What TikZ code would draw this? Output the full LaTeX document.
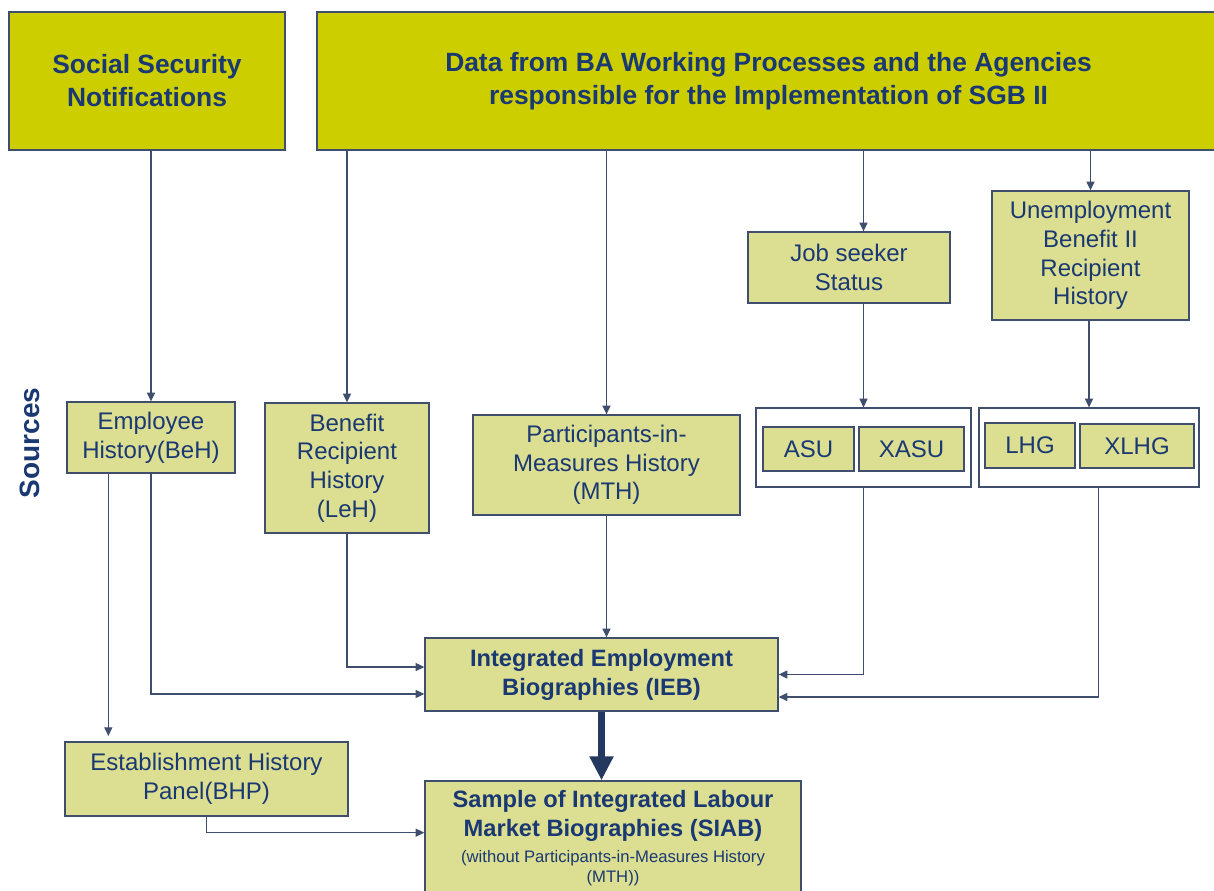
\documentclass[tikz,border=0pt]{standalone}
\usepackage{fontspec}
\setmainfont{Liberation Sans}
\usetikzlibrary{arrows.meta}
\definecolor{srcolive}{RGB}{204,206,0}
\definecolor{srclight}{RGB}{220,223,146}
\definecolor{srcblue}{RGB}{26,56,114}
\definecolor{srcline}{RGB}{62,78,108}
\definecolor{srcnavy}{RGB}{36,56,96}

\begin{document}
\begin{tikzpicture} [x=0.75pt, y=-0.75pt,
				topbox/.style = {draw=srcline,
					    line width=1pt,
					    fill=srcolive,
					    text=srcblue,
					    align=center,
					    font=\fontsize{19.8}{24.75}\selectfont\bfseries},
				srcbox/.style = {draw=srcline,
					    line width=1pt,
					    fill=srclight,
					    text=srcblue,
					    align=center,
					    font=\fontsize{18}{21.5}\selectfont},
				mainbox/.style = {srcbox,
					    font=\fontsize{17.75}{21.75}\selectfont\bfseries},
				holder/.style = {draw=srcline, line width=0.9pt, fill=white},
				flow/.style = {draw=srcline, line width=0.9pt,
					    -{Triangle[width=6pt,length=6.5pt]}},
				bigflow/.style = {draw=srcnavy, line width=5pt,
					    -{Triangle[width=17pt,length=18pt]}}]

					\useasboundingbox (0,0) rectangle (1214,890);

					\node (ssn) at (147,81) [topbox, minimum width=207pt, minimum height=103.5pt] {Social Security\\Notifications};
					\node (data) at (768.5,81) [topbox, minimum width=677.25pt, minimum height=103.5pt] {Data from BA Working Processes and the Agencies\\responsible for the Implementation of SGB II};

					\node (src) at (30,443) [rotate=90, text=srcblue, font=\fontsize{21}{25}\selectfont\bfseries] {Sources};

					\node (jobseek) at (849,267.5) [srcbox, minimum width=151.5pt, minimum height=53.25pt] {Job seeker\\Status};
					\node (ubii) at (1090.5,255.5) [srcbox, minimum width=147.75pt, minimum height=96.75pt] {Unemployment\\Benefit II\\Recipient\\History};

					\node (beh) at (151,437.5) [srcbox, minimum width=126pt, minimum height=53.25pt] {Employee\\History(BeH)};
					\node (leh) at (347,468) [srcbox, minimum width=123pt, minimum height=97.5pt] {Benefit\\Recipient\\History\\(LeH)};
					\node (mth) at (606.5,465) [srcbox, minimum width=200.25pt, minimum height=75pt] {Participants-in-\\Measures History\\(MTH)};

					\node (asubox) at (863.5,447.5) [holder, minimum width=161.25pt, minimum height=59.25pt] {};
					\node (asu) at (808.5,449) [srcbox, minimum width=68.25pt, minimum height=33pt] {ASU};
					\node (xasu) at (911.5,449) [srcbox, minimum width=78.75pt, minimum height=33pt] {XASU};

					\node (lhgbox) at (1089,447.5) [holder, minimum width=165pt, minimum height=59.25pt] {};
					\node (lhg) at (1030,445.5) [srcbox, minimum width=67.5pt, minimum height=33.75pt] {LHG};
					\node (xlhg) at (1137,446) [srcbox, minimum width=85.5pt, minimum height=33pt] {XLHG};

					\node (ieb) at (601.5,674.5) [mainbox, minimum width=264.75pt, minimum height=54.75pt] {Integrated Employment\\Biographies (IEB)};
					\node (bhp) at (206.5,779) [srcbox, minimum width=212.25pt, minimum height=55.5pt] {Establishment History\\Panel(BHP)};
					\node (siab) at (613,838) [mainbox, minimum width=282pt, minimum height=85.5pt] {Sample of Integrated Labour\\Market Biographies (SIAB)\\[-2.25pt]\fontsize{12.5}{15}\selectfont\mdseries (without Participants-in-Measures History\\[-6.75pt]\fontsize{12.5}{15}\selectfont\mdseries (MTH))};

					\draw [flow] (ssn.south -| beh.north) -- (beh.north);
					\draw [flow] (data.south -| leh.north) -- (leh.north);
					\draw [flow] (data.south -| mth.north) -- (mth.north);
					\draw [flow] (data.south -| asubox.north) -- (jobseek.north -| asubox.north);
					\draw [flow] (data.south -| ubii.north) -- (ubii.north);
					\draw [flow] (jobseek.south -| asubox.north) -- (asubox.north);
					\draw [flow] (ubii.south -| lhgbox.north) -- (lhgbox.north);

					\draw [flow] ([xshift=-32pt]beh.south) -- ([xshift=-32pt, yshift=4pt]beh.south |- bhp.north);
					\draw [flow] (beh.south) |- ([yshift=-14.6pt]ieb.west);
					\draw [flow] (leh.south) |- ([yshift=5.6pt]ieb.west);
					\draw [flow] (mth.south) -- (mth.south |- ieb.north);
					\draw [flow] (asubox.south) |- (ieb.east);
					\draw [flow] ([xshift=7pt]lhgbox.south) |- ([yshift=-16.9pt]ieb.east);
					\draw [bigflow] (ieb.south) -- (ieb.south |- siab.north);
					\draw [flow] (bhp.south) |- ([yshift=4pt]siab.west);

				\end{tikzpicture}
\end{document}
